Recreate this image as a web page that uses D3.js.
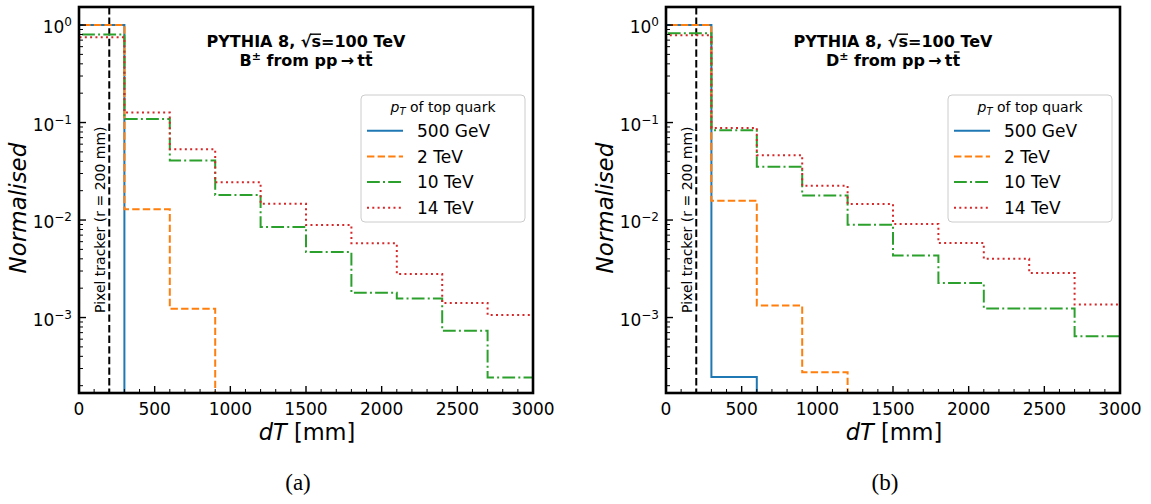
<!DOCTYPE html>
<html><head><meta charset="utf-8">
<script src="https://cdn.jsdelivr.net/npm/d3@7"></script>
<style>body{margin:0;background:#fff} text{font-family:"DejaVu Sans",sans-serif;fill:#000}</style>
</head><body><svg id="c" width="1151" height="504" style="background:#fff"></svg>
<script>
// ---------------- data ----------------
const binEdges = [0,300,600,900,1200,1500,1800,2100,2400,2700,3000];
const xTickValues = [0,500,1000,1500,2000,2500,3000];
const yTickExponents = [0,-1,-2,-3];
const seriesLabels = ["500 GeV","2 TeV","10 TeV","14 TeV"];
const panelLabels = ["(a)","(b)"];
const hadronLabels = ["B","D"];
const pixelTrackerRadius = 200;
// panel (a): B± from pp -> tt̄
const bHadron500GeV = [1.0,0,0,0,0,0,0,0,0,0];
const bHadron2TeV  = [1.0,0.0129,0.00123,0,0,0,0,0,0,0];
const bHadron10TeV = [0.80,0.109,0.0409,0.0181,0.0085,0.00469,0.0018,0.00157,0.00073,0.000243];
const bHadron14TeV = [0.75,0.1265,0.0533,0.0244,0.0147,0.0089,0.00578,0.00279,0.00141,0.00106];
// panel (b): D± from pp -> tt̄
const dHadron500GeV = [1.0,0.000245,0,0,0,0,0,0,0,0];
const dHadron2TeV  = [1.0,0.0158,0.00133,0.000275,0,0,0,0,0,0];
const dHadron10TeV = [0.824,0.0834,0.0352,0.0178,0.00897,0.00433,0.00226,0.00124,0.00124,0.000643];
const dHadron14TeV = [0.787,0.088,0.0463,0.0225,0.0146,0.0091,0.0058,0.0040,0.00286,0.00136];

// ---------------- styles ----------------
const colors = ["#1f77b4","#ff7f0e","#2ca02c","#d62728"];
const dashes = [null,"7.4,3.2","12.8,3.2,2,3.2","2,3.3"];
const LW = 2;

const svg = d3.select("#c");
const W = 454, H = 386;
const panels = [
  {x0:79, data:[bHadron500GeV,bHadron2TeV,bHadron10TeV,bHadron14TeV], hadron:hadronLabels[0], label:panelLabels[0]},
  {x0:666, data:[dHadron500GeV,dHadron2TeV,dHadron10TeV,dHadron14TeV], hadron:hadronLabels[1], label:panelLabels[1]}
];

panels.forEach((p,pi)=>{
  const g = svg.append("g").attr("transform",`translate(${p.x0},7)`);
  const x = d3.scaleLinear().domain([0,3000]).range([0,W]);
  const y = d3.scaleLog().domain([Math.pow(10,-3.774),Math.pow(10,0.185)]).range([H,0]);
  const cid = "clip"+pi;
  g.append("clipPath").attr("id",cid).append("rect").attr("width",W).attr("height",H);
  const plot = g.append("g").attr("clip-path",`url(#${cid})`);
  const yv = v => v>0 ? y(v) : H+20;

  // pixel tracker line
  plot.append("line").attr("x1",x(pixelTrackerRadius)).attr("x2",x(pixelTrackerRadius))
    .attr("y1",0).attr("y2",H).attr("stroke","#000").attr("stroke-width",2).attr("stroke-dasharray","7.4,3.2");

  // step histograms
  p.data.forEach((vals,si)=>{
    const pts = [[x(binEdges[0]),H+20]];
    vals.forEach((v,i)=>{ pts.push([x(binEdges[i]),yv(v)]); pts.push([x(binEdges[i+1]),yv(v)]); });
    pts.push([x(binEdges[binEdges.length-1]),H+20]);
    plot.append("path").attr("d",d3.line()(pts)).attr("fill","none")
      .attr("stroke",colors[si]).attr("stroke-width",LW)
      .attr("stroke-dasharray",dashes[si]).attr("stroke-linejoin","miter");
  });

  // pixel tracker text
  g.append("text").attr("transform",`translate(26,306) rotate(-90)`)
    .attr("font-size",14).text("Pixel tracker (r = 200 mm)");

  // ticks
  const tk = g.append("g");
  for(let v=0; v<=3000; v+=100){
    const major = v%500===0;
    tk.append("line").attr("x1",x(v)).attr("x2",x(v)).attr("y1",H).attr("y2",H-(major?7:4))
      .attr("stroke","#000").attr("stroke-width",major?1.4:1);
  }
  xTickValues.forEach(v=>{
    g.append("text").attr("x",x(v)).attr("y",H+21.5).attr("text-anchor","middle").attr("font-size",17).text(v);
  });
  for(let k=-4;k<=0;k++){
    for(let m=1;m<=9;m++){
      const v = m*Math.pow(10,k);
      if(v<y.domain()[0]||v>y.domain()[1]) continue;
      const major = m===1;
      tk.append("line").attr("x1",0).attr("x2",major?7:4).attr("y1",y(v)).attr("y2",y(v))
        .attr("stroke","#000").attr("stroke-width",major?1.4:1);
    }
  }
  yTickExponents.forEach(e=>{
    const t = g.append("text").attr("x",-7).attr("y",y(Math.pow(10,e))+8).attr("text-anchor","end").attr("font-size",17);
    t.append("tspan").text("10");
    t.append("tspan").attr("font-size",12).attr("dy",-7).text(e===0?"0":"\u2212"+(-e));
  });

  // frame
  g.append("rect").attr("width",W).attr("height",H).attr("fill","none").attr("stroke","#000").attr("stroke-width",2.6);

  // title
  const cx = W/2;
  const s1 = "PYTHIA 8, \u221As=100 TeV";
  const t1 = g.append("text").attr("x",cx).attr("y",40).attr("text-anchor","middle")
    .attr("font-weight","bold").attr("font-size",16).text(s1);
  const iR = s1.indexOf("\u221A"), iS = s1.indexOf("s");
  const bR = t1.node().getExtentOfChar(iR), bS = t1.node().getExtentOfChar(iS);
  g.append("line").attr("x1",bR.x+bR.width-1.5).attr("x2",bS.x+bS.width).attr("y1",40-12.8).attr("y2",40-12.8)
    .attr("stroke","#000").attr("stroke-width",1.4);
  const t2 = g.append("text").attr("x",cx).attr("y",58.5).attr("text-anchor","middle")
    .attr("font-weight","bold").attr("font-size",16);
  t2.append("tspan").text(p.hadron);
  t2.append("tspan").attr("font-size",11).attr("dy",-6).text("\u00B1");
  t2.append("tspan").attr("dy",6).text(" from pp\u2009\u2192\u2009tt");
  const full2 = p.hadron+"\u00B1"+" from pp\u2009\u2192\u2009tt";
  const bT = t2.node().getExtentOfChar(full2.length-1);
  g.append("line").attr("x1",bT.x+1.5).attr("x2",bT.x+bT.width-0.5).attr("y1",58.5-13.5).attr("y2",58.5-13.5)
    .attr("stroke","#000").attr("stroke-width",1.4);

  // legend
  const lg = g.append("g").attr("transform","translate(282,88)");
  lg.append("rect").attr("width",164).attr("height",127).attr("rx",4)
    .attr("fill","#fff").attr("fill-opacity",0.8).attr("stroke","#cccccc").attr("stroke-width",1);
  const lt = lg.append("text").attr("x",82).attr("y",16.5).attr("text-anchor","middle").attr("font-size",14);
  lt.append("tspan").attr("font-style","italic").text("p");
  lt.append("tspan").attr("font-style","italic").attr("font-size",10).attr("dy",3).text("T");
  lt.append("tspan").attr("dy",-3).text(" of top quark");
  seriesLabels.forEach((s,i)=>{
    const yy = 35.7 + i*25.7;
    lg.append("line").attr("x1",6).attr("x2",42).attr("y1",yy).attr("y2",yy)
      .attr("stroke",colors[i]).attr("stroke-width",LW).attr("stroke-dasharray",dashes[i]);
    lg.append("text").attr("x",56).attr("y",yy+6.2).attr("font-size",17).text(s);
  });

  // axis labels
  const xl = g.append("text").attr("x",cx+1).attr("y",H+46.5).attr("text-anchor","middle").attr("font-size",22.5);
  xl.append("tspan").attr("font-style","italic").text("dT");
  xl.append("tspan").text(" [mm]");
  g.append("text").attr("transform",`translate(-53,${H/2+8}) rotate(-90)`).attr("text-anchor","middle")
    .attr("font-size",23).attr("font-style","italic").text("Normalised");

  // panel label
  g.append("text").attr("x",cx-8).attr("y",483).attr("text-anchor","middle")
    .style("font-family","'Liberation Serif',serif")
    .attr("font-size",23).text(p.label);
});
</script></body></html>
